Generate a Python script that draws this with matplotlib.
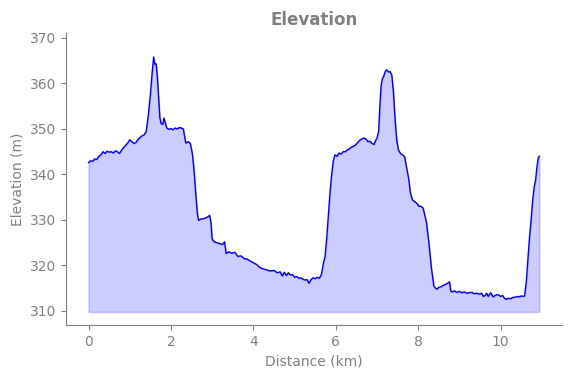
import matplotlib
matplotlib.use("Agg")
import matplotlib.pyplot as plt

distance_km = [
    0.00, 0.05, 0.10, 0.15, 0.20, 0.25, 0.30, 0.35, 0.40, 0.45, 0.50, 0.55, 0.60, 0.65, 0.70,
    0.75, 0.80, 0.85, 0.90, 0.95, 1.00, 1.05, 1.10, 1.15, 1.20, 1.25, 1.30, 1.35, 1.40, 1.45,
    1.50, 1.55, 1.58, 1.61, 1.64, 1.67, 1.70, 1.73, 1.76, 1.80, 1.83, 1.86, 1.90, 1.95, 2.00,
    2.05, 2.10, 2.15, 2.20, 2.25, 2.30, 2.33, 2.36, 2.42, 2.47, 2.52, 2.56, 2.60, 2.64, 2.67,
    2.72, 2.80, 2.88, 2.94, 2.97, 3.00, 3.05, 3.15, 3.25, 3.30, 3.34, 3.40, 3.48, 3.55, 3.62,
    3.70, 3.78, 3.85, 3.92, 4.00, 4.08, 4.15, 4.22, 4.30, 4.40, 4.50, 4.58, 4.65, 4.70, 4.75,
    4.80, 4.85, 4.90, 4.95, 5.00, 5.05, 5.10, 5.15, 5.20, 5.25, 5.30, 5.35, 5.40, 5.45, 5.50,
    5.55, 5.60, 5.65, 5.70, 5.74, 5.78, 5.82, 5.86, 5.90, 5.94, 5.98, 6.03, 6.08, 6.13, 6.18,
    6.23, 6.28, 6.33, 6.38, 6.43, 6.48, 6.53, 6.58, 6.63, 6.68, 6.73, 6.78, 6.83, 6.88, 6.93,
    6.96, 7.00, 7.04, 7.07, 7.10, 7.13, 7.16, 7.20, 7.24, 7.28, 7.32, 7.36, 7.40, 7.44, 7.48,
    7.52, 7.57, 7.62, 7.67, 7.72, 7.77, 7.81, 7.86, 7.92, 7.97, 8.02, 8.07, 8.12, 8.16, 8.20,
    8.26, 8.32, 8.38, 8.42, 8.46, 8.50, 8.55, 8.60, 8.65, 8.70, 8.76, 8.79, 8.82, 8.88, 8.94,
    9.00, 9.06, 9.12, 9.18, 9.24, 9.30, 9.36, 9.42, 9.48, 9.54, 9.58, 9.62, 9.66, 9.70, 9.76,
    9.82, 9.88, 9.94, 10.00, 10.05, 10.10, 10.15, 10.20, 10.25, 10.30, 10.35, 10.40, 10.45, 10.50, 10.55,
    10.58, 10.62, 10.66, 10.70, 10.74, 10.78, 10.82, 10.85, 10.88, 10.91, 10.94,
]

elevation_m = [
    342.6, 343.0, 342.9, 343.4, 343.3, 344.0, 344.3, 345.0, 344.6, 345.1, 344.9, 345.0, 344.7, 345.2, 345.0,
    344.6, 345.3, 345.9, 346.4, 346.9, 347.6, 347.2, 346.8, 347.0, 347.7, 348.1, 348.5, 348.7, 349.5, 353.0,
    357.5, 363.0, 365.8, 364.2, 364.3, 361.5, 357.0, 352.5, 351.2, 351.0, 352.4, 351.4, 350.2, 349.9, 350.1,
    349.8, 350.2, 350.0, 350.3, 350.2, 350.0, 348.5, 346.9, 347.2, 346.8, 344.5, 341.0, 336.0, 331.5, 329.9,
    330.2, 330.3, 330.6, 331.0, 329.5, 325.8, 325.2, 324.9, 324.6, 325.2, 322.6, 323.0, 322.7, 322.9, 322.0,
    322.1, 321.5, 321.4, 321.0, 320.6, 320.2, 319.6, 319.3, 319.1, 318.8, 318.9, 318.4, 318.6, 317.7, 318.5,
    317.8, 318.4, 317.9, 318.0, 317.4, 317.6, 317.2, 317.3, 317.0, 316.8, 316.9, 316.1, 316.9, 317.3, 317.1,
    317.4, 317.2, 318.0, 320.5, 322.0, 326.0, 331.0, 336.0, 340.0, 343.0, 344.3, 344.0, 344.7, 344.5, 345.0,
    345.0, 345.4, 345.6, 346.0, 346.2, 346.5, 347.0, 347.5, 347.8, 348.0, 347.8, 347.2, 347.3, 346.8, 346.6,
    347.3, 348.0, 349.5, 355.0, 359.5, 361.0, 361.5, 362.6, 363.0, 362.5, 362.6, 361.8, 358.0, 352.0, 347.5,
    345.4, 344.6, 344.3, 343.9, 341.5, 339.0, 336.0, 334.4, 334.0, 333.6, 333.0, 333.0, 332.6, 331.0, 329.5,
    325.0, 319.5, 315.5, 315.0, 314.8, 315.2, 315.3, 315.6, 315.8, 316.0, 316.4, 314.4, 314.2, 314.4, 314.1,
    314.3, 314.0, 314.2, 313.9, 314.0, 314.1, 313.8, 313.9, 313.7, 313.9, 313.2, 313.4, 313.9, 313.2, 314.0,
    313.1, 313.5, 313.6, 313.2, 313.4, 312.7, 312.6, 312.8, 312.7, 313.0, 313.0, 313.2, 313.1, 313.3, 313.2,
    313.3, 316.0, 321.0, 326.0, 330.0, 334.5, 337.5, 338.8, 341.5, 343.5, 344.0,
]

fill_base = 309.8
title = "Elevation"
xlabel = "Distance (km)"
ylabel = "Elevation (m)"

fig = plt.figure(figsize=(5.71, 3.78), dpi=100)
ax = fig.add_axes([0.1156, 0.140, 0.8684, 0.773])

ax.plot(distance_km, elevation_m, color="blue", linewidth=1.0)
ax.fill_between(distance_km, elevation_m, fill_base, color="blue", alpha=0.2)

ax.set_ylim(306.9, 371.1)
ax.set_xticks([0, 2, 4, 6, 8, 10])
ax.set_yticks([310, 320, 330, 340, 350, 360, 370])

grey = "gray"
ax.set_title(title, color=grey, fontweight="bold", fontsize=12)
ax.set_xlabel(xlabel, color=grey)
ax.set_ylabel(ylabel, color=grey)
for s in ["top", "right"]:
    ax.spines[s].set_visible(False)
for s in ["left", "bottom"]:
    ax.spines[s].set_color(grey)
ax.tick_params(colors=grey, labelcolor=grey)

fig.savefig("out.png", dpi=100)
